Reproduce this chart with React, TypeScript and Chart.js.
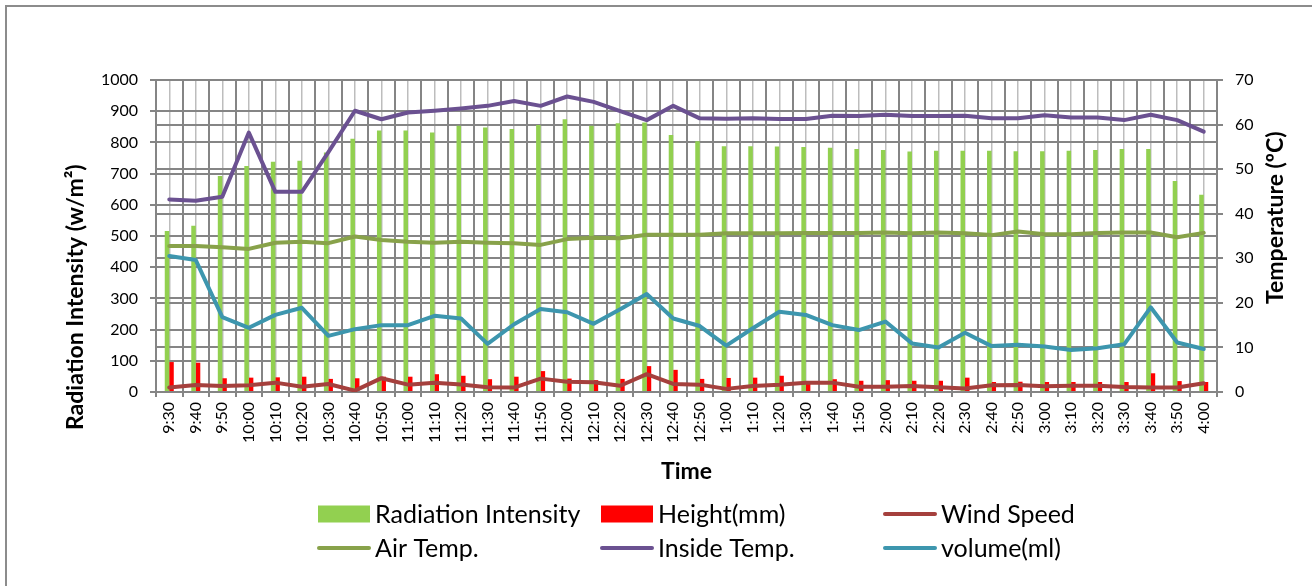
import React, { useEffect, useRef } from 'react';
import { Chart, registerables } from 'chart.js';

Chart.register(...registerables);

// Sampling times (every 10 minutes)
const timeLabels = [
  '9:30', '9:40', '9:50', '10:00', '10:10', '10:20', '10:30', '10:40', '10:50', '11:00',
  '11:10', '11:20', '11:30', '11:40', '11:50', '12:00', '12:10', '12:20', '12:30', '12:40',
  '12:50', '1:00', '1:10', '1:20', '1:30', '1:40', '1:50', '2:00', '2:10', '2:20',
  '2:30', '2:40', '2:50', '3:00', '3:10', '3:20', '3:30', '3:40', '3:50', '4:00',
];

// Left axis series (w/m², mm)
const radiation = [
  516, 533, 692, 724, 738, 741, 768, 812, 838, 838,
  832, 853, 848, 843, 856, 874, 853, 861, 864, 824,
  804, 788, 788, 787, 785, 783, 779, 776, 771, 773,
  773, 773, 772, 772, 773, 776, 779, 779, 676, 632,
];
const heightMm = [
  96, 94, 44, 46, 47, 49, 42, 44, 49, 49,
  57, 52, 41, 49, 67, 43, 38, 42, 83, 71,
  42, 45, 46, 52, 30, 41, 36, 38, 36, 36,
  46, 32, 33, 32, 32, 32, 32, 60, 35, 32,
];

// Right axis series
const windSpeed = [
  1.0, 1.57, 1.35, 1.5, 2.1, 1.2, 1.8, 0.3, 3.1, 1.65,
  2.1, 1.7, 1.05, 1.0, 3.0, 2.3, 2.2, 1.4, 4.0, 1.8,
  1.65, 0.7, 1.35, 1.65, 2.1, 2.1, 1.2, 1.2, 1.35, 1.05,
  0.8, 1.5, 1.55, 1.27, 1.4, 1.4, 1.12, 1.0, 1.0, 1.95,
];
const airTemp = [
  32.75, 32.75, 32.5, 32.1, 33.5, 33.7, 33.4, 34.9, 34.1, 33.7,
  33.5, 33.7, 33.5, 33.4, 33.0, 34.3, 34.6, 34.5, 35.3, 35.3,
  35.3, 35.6, 35.6, 35.6, 35.7, 35.7, 35.7, 35.8, 35.6, 35.8,
  35.6, 35.2, 36.0, 35.4, 35.4, 35.7, 35.8, 35.8, 34.7, 35.7,
];
const insideTemp = [
  43.2, 42.9, 43.8, 58.2, 44.9, 44.9, 53.8, 63.1, 61.2, 62.7,
  63.1, 63.6, 64.2, 65.3, 64.2, 66.3, 65.1, 63.0, 61.0, 64.2,
  61.4, 61.3, 61.4, 61.25, 61.25, 62.0, 61.9, 62.2, 61.9, 61.9,
  62.0, 61.4, 61.4, 62.1, 61.6, 61.6, 61.0, 62.2, 61.0, 58.4,
];
const volumeMl = [
  30.5, 29.6, 16.8, 14.4, 17.3, 18.9, 12.6, 14.1, 15.0, 15.0,
  17.1, 16.5, 10.8, 15.2, 18.6, 17.9, 15.3, 18.55, 22.0, 16.5,
  14.8, 10.4, 14.3, 18.0, 17.3, 15.0, 13.9, 15.8, 10.9, 10.0,
  13.3, 10.3, 10.6, 10.2, 9.4, 9.8, 10.7, 19.0, 11.1, 9.65,
];

const leftTicks = { min: 0, max: 1000, step: 100 };
const rightTicks = { min: 0, max: 70, step: 10 };

const FONT = 'Lato, "Open Sans", sans-serif';
const GRID = '#858585';
const GRID_LIGHT = '#bdbdbd';

// Canvas-drawn axis titles and a three-column legend
const decorations = {
  id: 'decorations',
  afterDraw(chart: any) {
    const { ctx, chartArea } = chart;
    ctx.save();
    ctx.fillStyle = '#000';
    ctx.textBaseline = 'middle';

    ctx.font = `bold 23px ${FONT}`;
    // left title
    ctx.save();
    ctx.translate(76, 430);
    ctx.rotate(-Math.PI / 2);
    ctx.textAlign = 'left';
    ctx.fillText('Radiation Intensity (w/m²)', 0, 0);
    ctx.restore();
    // right title
    ctx.save();
    ctx.translate(1276, 304);
    ctx.rotate(-Math.PI / 2);
    ctx.textAlign = 'left';
    ctx.fillText('Temperature (ºC)', 0, 0);
    ctx.restore();
    // x title
    ctx.textAlign = 'center';
    ctx.fillText('Time', (chartArea.left + chartArea.right) / 2, 472);

    // legend grid
    const cols = [318, 601, 884];
    const rows = [514, 548];
    ctx.font = `25px ${FONT}`;
    ctx.textAlign = 'left';
    chart.data.datasets.forEach((ds: any, i: number) => {
      const x = cols[i % 3];
      const y = rows[Math.floor(i / 3)];
      if (ds.type === 'bar') {
        ctx.fillStyle = ds.backgroundColor;
        ctx.fillRect(x, y - 8.5, 52, 17);
      } else {
        ctx.strokeStyle = ds.borderColor;
        ctx.lineWidth = 4;
        ctx.lineCap = 'round';
        ctx.beginPath();
        ctx.moveTo(x + 1, y);
        ctx.lineTo(x + 51, y);
        ctx.stroke();
      }
      ctx.fillStyle = '#000';
      ctx.fillText(ds.label, x + 57, y + 1);
    });
    ctx.restore();
  },
};

export default function App() {
  const canvasRef = useRef<HTMLCanvasElement | null>(null);

  useEffect(() => {
    const canvas = canvasRef.current;
    if (!canvas) return;
    const lineBase = {
      type: 'line' as const,
      yAxisID: 'y1',
      borderWidth: 4,
      pointRadius: 0,
      tension: 0,
      borderJoinStyle: 'round' as const,
      borderCapStyle: 'round' as const,
      order: 1,
    };
    const tickFont = { family: FONT, size: 16 };
    const chart = new Chart(canvas, {
      type: 'bar',
      data: {
        labels: timeLabels,
        datasets: [
          {
            type: 'bar',
            label: 'Radiation Intensity',
            data: radiation,
            backgroundColor: '#92D050',
            yAxisID: 'y',
            barPercentage: 1,
            categoryPercentage: 0.34,
            order: 2,
          },
          {
            type: 'bar',
            label: 'Height(mm)',
            data: heightMm,
            backgroundColor: '#FF0000',
            yAxisID: 'y',
            barPercentage: 1,
            categoryPercentage: 0.34,
            order: 2,
          },
          { ...lineBase, label: 'Wind Speed', data: windSpeed, borderColor: '#A5403D', backgroundColor: '#A5403D' },
          { ...lineBase, label: 'Air Temp.', data: airTemp, borderColor: '#88A24A', backgroundColor: '#88A24A' },
          { ...lineBase, label: 'Inside Temp.', data: insideTemp, borderColor: '#6B5191', backgroundColor: '#6B5191' },
          { ...lineBase, label: 'volume(ml)', data: volumeMl, borderColor: '#3D96AE', backgroundColor: '#3D96AE' },
        ] as any,
      },
      options: {
        animation: false,
        responsive: false,
        maintainAspectRatio: false,
        layout: { padding: { left: 0, right: 0, top: 80, bottom: 96 } },
        plugins: { legend: { display: false }, tooltip: { enabled: false } },
        scales: {
          x: {
            type: 'category',
            position: 'bottom',
            offset: true,
            grid: { offset: true, color: GRID, lineWidth: 2, tickLength: 5, tickColor: GRID },
            border: { color: GRID, width: 2 },
            ticks: {
              autoSkip: false,
              minRotation: 90,
              maxRotation: 90,
              padding: 5,
              color: '#000',
              font: tickFont,
            },
            afterFit: (s: any) => { s.height = 98; },
          },
          x2: {
            type: 'category',
            position: 'bottom',
            offset: true,
            grid: { offset: false, color: GRID_LIGHT, lineWidth: 1.5, drawTicks: false },
            border: { display: false },
            ticks: { display: false },
            afterFit: (s: any) => { s.height = 0; },
          },
          y: {
            type: 'linear',
            position: 'left',
            min: leftTicks.min,
            max: leftTicks.max,
            ticks: {
              stepSize: leftTicks.step,
              padding: 12,
              color: '#000',
              font: tickFont,
              callback: (v: any) => String(v),
            },
            grid: { color: GRID, lineWidth: 2, tickLength: 6, tickColor: GRID },
            border: { color: GRID, width: 2 },
            afterFit: (s: any) => { s.width = 156; },
          },
          y1: {
            type: 'linear',
            position: 'right',
            min: rightTicks.min,
            max: rightTicks.max,
            ticks: {
              stepSize: rightTicks.step,
              padding: 12,
              color: '#000',
              font: tickFont,
              callback: (v: any) => String(v),
            },
            grid: { color: GRID, lineWidth: 2, tickLength: 6, tickColor: GRID, drawOnChartArea: true },
            border: { color: GRID, width: 2 },
            afterFit: (s: any) => { s.width = 95; },
          },
        },
      },
      plugins: [decorations],
    });
    return () => chart.destroy();
  }, []);

  return (
    <div style={{ position: 'fixed', left: 0, top: 0, width: 1312, height: 586, overflow: 'hidden', background: '#fff' }}>
      <div style={{ position: 'absolute', left: 5, top: 5, width: 1400, height: 700, border: '2px solid #8c8c8c' }} />
      <canvas ref={canvasRef} width={1312} height={586} style={{ position: 'absolute', left: 0, top: 0 }} />
    </div>
  );
}
